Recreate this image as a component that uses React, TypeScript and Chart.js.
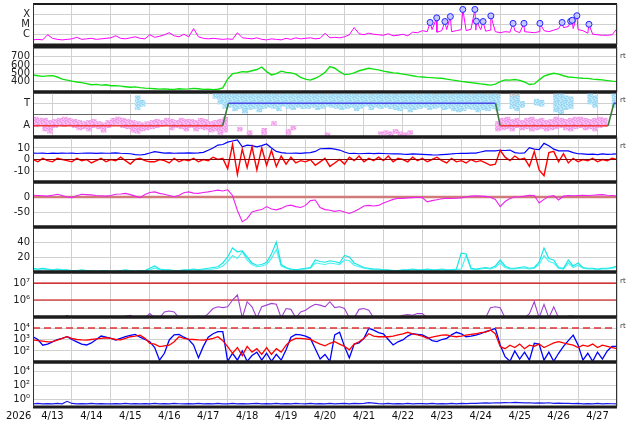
import React, { useEffect, useRef } from 'react';
import { Chart, registerables } from 'chart.js';

Chart.register(...registerables);

const N = null;

// ---------------- labels / axes ----------------
const dayLabels = ['4/13', '4/14', '4/15', '4/16', '4/17', '4/18', '4/19', '4/20', '4/21', '4/22', '4/23', '4/24', '4/25', '4/26', '4/27'];
const yearLabel = '2026';
const rtLabel = 'rt';
const STEP = 0.125; // days between samples (3 h)
const xrayClassExp = [-4, -5, -6];
const xrayClassNames = ['X', 'M', 'C'];
const speedTicks = [700, 600, 500, 400];
const sectorTicks = [1, 0, -1];
const sectorTickNames = ['T', '', 'A'];
const imfTicks = [10, 0, -10];
const dstTicks = [0, -50];
const densTicks = [40, 20];
const protonTickExp = [7, 6];
const elecTickExp = [4, 3, 2];
const lowTickExp = [4, 2, 0];
const protonLevelsExp = [7, 6];
const elecLevelExp = 4;

// ---------------- data (3-hourly, days since 4/13 00:00) ----------------
// X-ray flux, log10 W/m2
const xrayLog = [
  -6.5, -6.45, -6.5, -6.0, -6.35, -6.45, -6.5, -6.45,
  -6.4, -6.25, -6.45, -6.4, -6.35, -6.45, -6.4, -6.35,
  -6.3, -6.1, -6.35, -6.4, -6.3, -6.2, -6.35, -6.4,
  -6.0, -6.25, -6.15, -6.0, -5.8, -6.1, -6.2, -5.95,
  -6.2, -5.4, -6.2, -6.35, -6.4, -6.35, -6.4, -6.45,
  -6.4, -6.45, -5.8, -6.3, -6.35, -6.4, -6.3, -6.45,
  -6.5, -6.4, -6.45, -6.5, -6.35, -6.45, -6.3, -6.4,
  -6.35, -6.3, -6.4, -6.35, -5.85, -6.3, -6.25, -6.3,
  -6.2, -6.0, -5.3, -5.9, -6.0, -5.85, -5.95, -6.0,
  -6.05, -5.9, -6.1, -6.05, -5.95, -6.1, -5.75, -5.8,
  -5.6, -5.7, -5.5, -5.75, -5.6, -5.5, -5.7, -5.6,
  -5.5, -5.6, -5.45, -5.55, -5.5, -5.65, -5.55, -5.7,
  -5.8, -5.7, -5.75, -5.6, -5.8, -5.7, -5.75, -5.8,
  -5.7, -5.6, -5.7, -5.55, -5.4, -5.3, -5.2, -5.4,
  -5.5, -5.6, -5.85, -5.95, -6.0, -6.05, -6.05, -6.0,
  -5.4,
];
const flareTimes = [10.2, 10.37, 10.58, 10.72, 11.04, 11.35, 11.39, 11.56, 11.76, 12.33, 12.61, 13.02, 13.59, 13.81, 13.85, 13.97, 14.28];
const flareLog = [-4.8, -4.35, -4.71, -4.23, -3.53, -3.53, -4.68, -4.71, -4.16, -4.89, -4.89, -4.89, -4.8, -4.68, -4.59, -4.14, -4.98];

// solar wind speed km/s
const windSpeed = [
  480, 470, 462, 468, 472, 455, 430, 418,
  405, 395, 388, 375, 362, 366, 358, 362,
  350, 352, 345, 338, 332, 336, 328, 322,
  318, 314, 310, 312, 308, 306, 314, 310,
  312, 318, 314, 306, 310, 304, 308, 325,
  430, 495, 505, 520, 515, 530, 545, 575,
  520, 480, 495, 525, 510, 505, 490, 450,
  430, 418, 440, 470, 510, 580, 560, 520,
  485, 490, 505, 530, 545, 560, 550, 540,
  525, 515, 505, 500, 490, 480, 470, 460,
  455, 450, 448, 442, 440, 430, 420, 412,
  402, 395, 388, 380, 372, 365, 358, 370,
  400, 420, 418, 425, 415, 395, 365, 372,
  420, 465, 485, 500, 490, 470, 455, 450,
  445, 440, 438, 430, 425, 420, 412, 405,
  400,
];

// IMF sector (T = +1, A = -1)
const sectorTimes = [0, 4.87, 5.02, 11.88, 12.0, 14.77, 14.92, 15];
const sectorValues = [-1, -1, 1, 1, -1, -1, 1, 1];

// point clouds per 3-h bin (low / high of the cloud)
const pinkHi = [
  -0.2, -0.3, -0.3, -0.5, -0.4, -0.3, -0.2, -0.3,
  -0.4, -0.5, -0.6, -0.5, -0.4, -0.6, -0.7, -0.5,
  -0.3, -0.2, -0.3, -0.4, -0.5, -0.6, -0.7, -0.6,
  -0.5, -0.4, -0.5, -0.3, -0.4, -0.5, -0.3, -0.4,
  -0.4, -0.5, -0.3, -0.4, -0.6, -0.5, -0.4, -0.2,
  N, N, -1.1, N, -1.4, N, N, -1.2,
  N, -0.6, N, N, -1.3, -1.0, N, N,
  N, N, N, N, -1.6, N, N, N,
  N, N, N, N, N, N, N, -1.5,
  -1.4, -1.5, -1.3, -1.5, -1.6, -1.4, N, N,
  N, N, N, N, N, N, N, N,
  N, N, N, N, N, N, N, -0.6,
  -0.3, -0.2, -0.4, -0.3, -0.5, -0.3, -0.2, -0.4,
  -0.3, -0.5, -0.4, -0.2, -0.3, -0.4, -0.3, -0.2,
  -0.2, -0.3, -0.4, -0.3, -0.2, -0.3, N, N,
];
const pinkLo = [
  -1.1, -1.0, -1.5, -1.7, -1.2, -1.0, -1.1, -1.0,
  -1.2, -1.4, -1.3, -1.5, -1.2, -1.3, -1.6, -1.2,
  -1.0, -0.9, -1.2, -1.3, -1.6, -1.7, -1.5, -1.4,
  -1.3, -1.2, -1.1, -1.0, -1.4, -1.2, -1.3, -1.5,
  -1.2, -1.5, -1.3, -1.4, -1.6, -1.5, -1.8, -1.6,
  N, N, -1.5, N, -1.9, N, N, -1.8,
  N, -1.0, N, N, -1.8, -1.4, N, N,
  N, N, N, N, -1.9, N, N, N,
  N, N, N, N, N, N, N, -1.8,
  -1.8, -1.9, -1.7, -1.9, -1.9, -1.8, N, N,
  N, N, N, N, N, N, N, N,
  N, N, N, N, N, N, N, -1.5,
  -1.4, -1.3, -1.5, -1.2, -1.4, -1.3, -1.5, -1.4,
  -1.3, -1.5, -1.4, -1.3, -1.2, -1.4, -1.5, -1.3,
  -1.2, -1.4, -1.3, -1.5, -1.2, -1.1, N, N,
];
const blueHi = [
  N, N, N, N, N, N, N, N,
  N, N, N, N, N, N, N, N,
  N, N, N, N, N, 1.7, 1.3, N,
  N, N, N, N, N, N, N, N,
  N, N, N, N, N, 1.9, 1.95, 1.95,
  1.9, 1.85, 1.9, 1.8, 1.9, 1.85, 1.9, 1.85,
  1.85, 1.9, 1.8, 1.9, 1.85, 1.9, 1.8, 1.85,
  1.9, 1.8, 1.85, 1.9, 1.8, 1.85, 1.9, 1.85,
  1.85, 1.9, 1.8, 1.85, 1.9, 1.8, 1.85, 1.9,
  1.9, 1.85, 1.8, 1.9, 1.85, 1.9, 1.8, 1.85,
  1.85, 1.9, 1.8, 1.85, 1.9, 1.85, 1.8, 1.9,
  1.9, 1.85, 1.8, 1.9, 1.85, 1.8, 1.9, 1.8,
  N, N, 1.6, 1.7, 1.2, N, N, 1.4,
  1.3, N, N, 1.8, 1.9, 1.7, 1.6, N,
  N, N, 1.9, 1.7, N, N, N, 1.9,
];
const blueLo = [
  N, N, N, N, N, N, N, N,
  N, N, N, N, N, N, N, N,
  N, N, N, N, N, 0.4, 0.7, N,
  N, N, N, N, N, N, N, N,
  N, N, N, N, N, 1.4, 0.9, 0.5,
  0.6, 0.3, 0.5, 0.1, 0.4, 0.5, 0.2, 0.5,
  0.6, 0.5, 0.3, 0.7, 0.5, 0.4, 0.6, 0.5,
  0.5, 0.6, 0.4, 0.5, 0.7, 0.6, 0.5, 0.4,
  0.5, 0.6, 0.3, 0.5, 0.7, 0.4, 0.6, 0.5,
  0.6, 0.5, 0.4, 0.3, 0.5, 0.2, 0.4, 0.5,
  0.6, 0.4, 0.5, 0.6, 0.4, 0.5, 0.3, 0.2,
  0.3, 0.5, 0.4, 0.2, 0.4, 0.3, 0.5, 0.3,
  N, N, 0.5, 0.3, 0.6, N, N, 0.8,
  0.7, N, N, 0.2, 0.0, 0.4, 0.5, N,
  N, N, 0.9, 0.6, N, N, N, 0.6,
];
const grayHi = [
  N, N, N, N, N, N, N, N,
  N, N, N, N, N, N, N, N,
  N, N, N, N, N, N, N, N,
  N, N, N, N, N, N, N, N,
  N, N, N, N, N, 2, 2, 2,
  2, 2, 2, 2, 2, 2, 2, 2,
  2, 2, 2, 2, 2, 2, 2, 2,
  2, 2, 2, 2, 2, 2, 2, 2,
  2, 2, 2, 2, 2, 2, 2, 2,
  2, 2, 2, 2, 2, 2, 2, 2,
  2, 2, 2, 2, 2, 2, 2, 2,
  2, 2, 2, 2, 2, 2, 2, 2,
  N, N, 1.95, 1.95, N, N, N, N,
  N, N, N, 2, 2, N, N, N,
  N, N, N, N, N, N, N, 2,
];
const grayLo = [
  N, N, N, N, N, N, N, N,
  N, N, N, N, N, N, N, N,
  N, N, N, N, N, N, N, N,
  N, N, N, N, N, N, N, N,
  N, N, N, N, N, 1.7, 1.6, 1.55,
  1.6, 1.5, 1.65, 1.55, 1.7, 1.6, 1.5, 1.65,
  1.55, 1.65, 1.5, 1.6, 1.7, 1.55, 1.6, 1.5,
  1.6, 1.55, 1.7, 1.5, 1.6, 1.65, 1.55, 1.6,
  1.65, 1.5, 1.6, 1.55, 1.7, 1.6, 1.5, 1.65,
  1.5, 1.6, 1.65, 1.55, 1.6, 1.7, 1.55, 1.6,
  1.6, 1.55, 1.5, 1.65, 1.6, 1.55, 1.7, 1.6,
  1.55, 1.6, 1.65, 1.5, 1.6, 1.55, 1.6, 1.65,
  N, N, 1.5, 1.6, N, N, N, N,
  N, N, N, 1.6, 1.7, N, N, N,
  N, N, N, N, N, N, N, 1.6,
];

// IMF Bt and Bz, nT
const imfBt = [
  5.5, 5.4, 5.6, 5.2, 5.5, 5.3, 5.6, 5.4,
  5.5, 5.2, 5.4, 5.6, 5.5, 5.3, 5.6, 5.4,
  5.5, 5.7, 5.4, 5.2, 5.0, 4.2, 3.9, 4.5,
  5.6, 6.8, 6.2, 5.5, 5.8, 5.4, 5.6, 5.5,
  5.7, 5.5, 5.8, 6.2, 8, 10, 12.5, 13,
  15, 16, 17, 11, 12.5, 12, 11, 12,
  13.5, 10, 7, 6, 5.5, 5.4, 5.5, 5.3,
  5.8, 6, 7, 9.3, 9.5, 9.7, 9, 8.2,
  6.5, 5.2, 5.4, 5, 5.2, 5.4, 5.1, 5.3,
  5.2, 5, 4.8, 5, 4.6, 4.5, 4.8, 4.6,
  4.4, 4.2, 4, 3.9, 4.2, 4.5, 4.8, 5.2,
  5.4, 5.3, 5.5, 5.6, 6.5, 7.4, 7.6, 7.4,
  8, 7.8, 8.2, 6, 5.4, 5.8, 10.3, 9,
  8.5, 14, 12, 9, 7.5, 7.4, 7.5, 6,
  5, 4.8, 4.5, 4.6, 4.3, 4.8, 4.5, 4.6,
  4.8,
];
const imfBz = [
  0, -2, 1, -1, -2, 1, 0, -1,
  -2, 1, -1, 0, -3, -1, 1, -2,
  0, -1, 2, -1, -4, 0, 1, -1,
  -2, -2, 0, -1, -3, 1, -2, 0,
  -1, 1, -2, 0, -1, 2, 0, 1,
  -8, 13, -13, 9, -7, 11, -9, 10,
  -5, 8, -6, 3, -4, 2, -3, -1,
  -2, 0, -5, -2, 1, -6, -3, 0,
  -4, 2, -1, 3, -2, 1, -1, 2,
  -1, 3, -2, 1, 0, -2, 2, -1,
  1, -2, 0, 2, -1, -3, 1, -2,
  -1, -3, 0, -2, -1, -3, -5, -4,
  8, 2, -1, 3, 0, 1, -6, 7,
  -9, -14, 6, 7, -2, 5, -3, 1,
  -2, 0, -1, 1, -2, 0, -1, 1,
  0,
];

// Dst index, nT
const dst = [
  6, 5, 4, 3, 6, 9, 5, 0,
  -2, 4, 9, 8, 7, 5, 4, 3,
  5, 9, 10, 12, 8, 3, -2, 8,
  15, 17, 12, 9, 5, 1, 6, 14,
  17, 13, 12, 15, 17, 20, 23, 20,
  24, 5, -45, -82, -72, -50, -45, -42,
  -32, -40, -43, -38, -30, -27, -32, -35,
  -28, -12, -10, -35, -42, -44, -48, -45,
  -50, -55, -48, -40, -30, -28, -30, -28,
  -20, -14, -8, -4, -5, -3, -2, -1,
  -2, -16, -12, -9, -6, -4, -5, -4,
  -3, 0, 3, 4, 3, 2, -1, -8,
  -32, -15, -5, 0, 1, 3, 6, 5,
  -20, -8, 2, 5, -10, 3, 5, 4,
  5, 6, 5, 6, 7, 8, 6, 5,
  3,
];

// plasma density, two sources
const densA = [
  5, 4, 5, 4, 3, 4, 3, 3,
  2, 2, 3, 2, 2, 1, 2, 2,
  1, 1, 2, 3, 2, 1, 2, 2,
  5, 8, 4, 3, 3, 2, 2, 3,
  3, 4, 3, 4, 5, 6, 7, 12,
  20, 32, 27, 28, 20, 12, 9, 10,
  13, 24, 40, 10, 6, 4, 3, 4,
  5, 6, 16, 14, 13, 15, 14, 12,
  22, 20, 12, 9, 6, 5, 4, 4,
  3, 3, 2, 2, 3, 3, 4, 3,
  3, 4, 3, 3, 4, 3, 3, 4,
  25, 24, 5, 4, 5, 6, 5, 8,
  16, 8, 5, 5, 6, 7, 5, 6,
  13, 32, 18, 16, 6, 5, 16, 8,
  12, 6, 5, 5, 4, 5, 5, 6,
  8,
];
const densB = [
  4, 3, 4, 3, 2, 3, 2, 2,
  1, 1, 2, 1, 1, 1, 1, 1,
  1, 1, 1, 2, 1, 1, 1, 1,
  3, 5, 3, 2, 2, 1, 1, 2,
  2, 3, 2, 3, 3, 4, 5, 8,
  14, 22, 18, 27, 16, 10, 7, 8,
  10, 18, 30, 8, 5, 3, 3, 3,
  4, 5, 12, 11, 10, 12, 11, 10,
  16, 15, 9, 7, 5, 4, 3, 3,
  2, 2, 2, 2, 2, 2, 3, 2,
  2, 3, 2, 2, 3, 2, 2, 3,
  4, 22, 4, 3, 4, 5, 4, 6,
  12, 6, 4, 4, 5, 5, 4, 5,
  10, 22, 14, 12, 5, 4, 12, 6,
  9, 5, 4, 4, 3, 4, 4, 5,
  6,
];

// proton-type flux, log10
const protonLog = [
  4.95, 5.05, 4.95, 4.95, 4.95, 4.95, 4.95, 5.1,
  4.95, 4.95, 4.95, 4.95, 4.95, 4.95, 4.95, 4.95,
  4.95, 4.95, 4.95, 5.05, 5.1, 4.95, 4.95, 4.95,
  5.2, 4.95, 4.95, 5.3, 5.35, 5.3, 4.95, 4.95,
  4.95, 5.0, 5.05, 4.95, 5.2, 5.5, 5.6, 5.55,
  5.6, 6.0, 6.3, 4.95, 5.9, 5.6, 4.95, 5.6,
  5.7, 5.8, 5.75, 4.95, 5.5, 5.45, 4.95, 5.3,
  5.4, 5.6, 5.75, 5.7, 5.6, 5.9, 5.55, 5.6,
  5.5, 4.95, 4.95, 5.45, 5.5, 5.4, 4.95, 4.95,
  4.95, 4.95, 4.95, 4.95, 5.1, 5.15, 5.1, 5.2,
  5.2, 4.95, 4.95, 4.95, 4.95, 4.95, 4.95, 4.95,
  4.95, 4.95, 4.95, 4.95, 4.95, 4.95, 5.55, 5.6,
  5.55, 4.95, 4.95, 4.95, 4.95, 4.95, 5.2, 5.9,
  4.95, 5.75, 4.95, 5.6, 4.95, 4.95, 5.05, 5.05,
  4.95, 4.95, 4.95, 4.95, 5.03, 4.95, 4.95, 4.95,
  4.95,
];

// electron flux, two spacecraft, log10
const elecBlueLog = [
  3.24, 3.0, 2.5, 2.6, 2.8, 3.0, 3.1, 3.24,
  3.0, 2.8, 2.6, 2.52, 2.7, 3.0, 3.3, 3.2,
  3.1, 2.96, 3.1, 3.24, 3.35, 3.45, 3.2, 3.0,
  2.81, 2.3, 1.2, 1.8, 2.96, 3.4, 3.45, 3.2,
  3.0, 2.52, 1.4, 2.4, 3.2, 3.5, 3.68, 3.68,
  1.1, 1.8, 1.2, 2.0, 1.1, 1.6, 1.9, 1.2,
  1.8, 1.1, 1.7, 1.2, 2.1, 3.2, 3.45, 3.4,
  3.3, 3.1, 2.2, 1.3, 1.7, 1.1, 3.4, 3.63,
  2.4, 1.4, 2.6, 2.7, 3.1, 3.97, 3.82, 3.6,
  3.5, 3.0, 2.52, 2.8, 2.96, 3.3, 3.5, 3.45,
  3.4, 3.2, 2.9, 2.81, 3.0, 3.1, 3.4, 3.63,
  3.5, 3.24, 3.3, 3.38, 3.5, 3.68, 3.8, 3.97,
  2.52, 1.5, 1.1, 2.0, 1.3, 1.9, 1.2, 2.67,
  2.6, 1.2, 1.9, 1.1, 1.8, 2.4, 2.9, 3.38,
  2.52, 1.2, 1.8, 1.1, 1.9, 1.3, 2.0, 2.4,
  2.4,
];
const elecRedLog = [
  2.96, 2.9, 2.85, 2.8, 2.81, 2.95, 3.1, 3.24,
  3.1, 3.0, 2.96, 2.95, 3.0, 3.05, 3.1, 3.15,
  3.1, 3.0, 2.96, 3.1, 3.24, 3.3, 3.38, 3.1,
  2.67, 2.6, 2.38, 2.45, 2.5, 2.8, 3.24, 3.1,
  3.03, 3.0, 2.96, 2.95, 3.0, 3.1, 3.24, 2.9,
  2.38, 1.8, 2.3, 1.6, 2.4, 1.9, 2.2, 1.7,
  2.3, 1.7, 2.2, 1.9, 2.5, 2.9, 3.1, 3.1,
  3.05, 3.0, 2.8, 2.6, 2.45, 2.67, 2.81, 2.6,
  2.4, 2.1, 2.6, 2.8, 3.1, 3.5, 3.3, 3.24,
  3.24, 3.24, 3.3, 3.4, 3.5, 3.63, 3.5, 3.4,
  3.3, 3.1, 3.2, 3.3, 3.38, 3.4, 3.3, 3.24,
  3.3, 3.38, 3.45, 3.5, 3.6, 3.65, 3.82, 3.5,
  2.38, 2.2, 2.5, 2.3, 2.6, 2.2, 2.5, 2.4,
  2.6, 2.3, 2.5, 2.7, 2.81, 2.7, 2.6, 2.5,
  2.3, 2.5, 2.4, 2.6, 2.3, 2.5, 2.4, 2.3,
  2.2,
];

// bottom panel flux, log10
const lowLog = [
  -0.55, -0.5, -0.55, -0.52, -0.56, -0.5, -0.55, -0.2,
  -0.5, -0.55, -0.52, -0.56, -0.5, -0.55, -0.53, -0.56,
  -0.55, -0.52, -0.56, -0.5, -0.55, -0.53, -0.56, -0.52,
  -0.56, -0.5, -0.55, -0.53, -0.56, -0.5, -0.54, -0.56,
  -0.52, -0.56, -0.5, -0.55, -0.52, -0.56, -0.5, -0.55,
  -0.56, -0.5, -0.55, -0.52, -0.56, -0.53, -0.5, -0.55,
  -0.52, -0.56, -0.5, -0.55, -0.53, -0.56, -0.5, -0.54,
  -0.56, -0.5, -0.55, -0.52, -0.56, -0.5, -0.55, -0.53,
  -0.5, -0.55, -0.5, -0.52, -0.5, -0.38, -0.45, -0.52,
  -0.56, -0.5, -0.55, -0.52, -0.56, -0.5, -0.55, -0.53,
  -0.52, -0.56, -0.5, -0.55, -0.52, -0.56, -0.5, -0.55,
  -0.5, -0.52, -0.48, -0.5, -0.45, -0.42, -0.45, -0.4,
  -0.42, -0.38, -0.4, -0.35, -0.38, -0.42, -0.4, -0.45,
  -0.42, -0.45, -0.4, -0.48, -0.45, -0.5, -0.48, -0.52,
  -0.5, -0.55, -0.52, -0.56, -0.5, -0.55, -0.52, -0.54,
  -0.55,
];

// ---------------- helpers ----------------
const FONT = '"DejaVu Sans", Verdana, sans-serif';
const GRID = '#d0d0d0';
const SUP: Record<string, string> = { '-': '⁻', '0': '⁰', '1': '¹', '2': '²', '3': '³', '4': '⁴', '5': '⁵', '6': '⁶', '7': '⁷', '8': '⁸', '9': '⁹' };
const powLabel = (v: number) => '10' + String(Math.round(Math.log10(v))).split('').map((c) => SUP[c]).join('');
const P10 = (e: number) => Math.pow(10, e);

Chart.defaults.font.family = FONT;
Chart.defaults.font.size = 10;
Chart.defaults.color = '#222';

const series = (vals: (number | null)[], exp = false) =>
  vals.map((v, i) => ({ x: i * STEP, y: v === null ? null : exp ? P10(v) : v }));
const band = (lo: (number | null)[], hi: (number | null)[]) => {
  const out: any[] = [];
  lo.forEach((l, i) => {
    const h = hi[i];
    if (l !== null && h !== null) out.push({ x: (i + 0.5) * STEP, y: [l, h] });
  });
  return out;
};
const hline = (v: number) => [{ x: 0, y: v }, { x: 15, y: v }];
const line = (data: any[], color: string, width = 1, extra: any = {}) => ({
  type: 'line', data, borderColor: color, backgroundColor: color, borderWidth: width, pointRadius: 0, tension: 0, fill: false, ...extra,
});
const bars = (data: any[], color: any) => ({
  type: 'bar', data, backgroundColor: color, borderWidth: 0, grouped: false, barPercentage: 1.15, categoryPercentage: 1,
});

// speckled fill so the clouds read as scattered dots
const SPECKS = [[0, 0], [3, 0], [5, 1], [1, 2], [4, 3], [6, 3], [2, 4], [0, 5], [5, 5], [3, 6], [1, 7], [6, 7]];
function speckle(base: string, dot: string) {
  const c = document.createElement('canvas');
  c.width = 8; c.height = 8;
  const g = c.getContext('2d') as CanvasRenderingContext2D;
  g.fillStyle = base;
  g.fillRect(0, 0, 8, 8);
  g.fillStyle = dot;
  SPECKS.forEach(([x, y]) => g.fillRect(x, y, 2, 1.5));
  return g.createPattern(c, 'repeat');
}

const PANEL_TOPS = [2, 47, 92, 137, 182, 227, 272, 317, 362];
const RT_TOPS = [57, 101, 147, 282, 327];

function buildSpec(i: number): any {
  switch (i) {
    case 0: {
      const pts = xrayLog.map((v, k) => ({ x: k * STEP, y: P10(v) }));
      flareTimes.forEach((t, k) => pts.push({ x: t, y: P10(flareLog[k]) }));
      pts.sort((a, b) => a.x - b.x);
      const flares = flareTimes.map((t, k) => ({ x: t, y: P10(flareLog[k]) }));
      return {
        log: true, min: P10(-7), max: P10(-3), topW: 2,
        ticks: xrayClassExp.map(P10),
        label: (v: number) => xrayClassNames[xrayClassExp.indexOf(Math.round(Math.log10(v)))] || '',
        datasets: [
          line(flares, '#2a2aff', 1, { showLine: false, pointRadius: 3, pointBorderWidth: 1, pointBackgroundColor: '#c4c8ff', pointBorderColor: '#2424ff' }),
          line(pts, '#ff00ff', 1),
        ],
      };
    }
    case 1:
      return {
        min: 275, max: 815, ticks: speedTicks, label: (v: number) => String(v),
        datasets: [line(series(windSpeed), '#11e011', 1.4)],
      };
    case 2:
      return {
        min: -2, max: 2, ticks: sectorTicks,
        label: (v: number) => sectorTickNames[sectorTicks.indexOf(v)] || '',
        gridColor: (c: any) => (c.tick && c.tick.value === 0 ? '#666' : GRID),
        datasets: [
          line(sectorTimes.map((t, k) => ({ x: t, y: sectorValues[k] })), '#f03a3a', 1.6, {
            segment: {
              borderColor: (c: any) => {
                const a = c.p0.parsed.y, b = c.p1.parsed.y;
                return a === b ? (a > 0 ? '#4a4ae6' : '#f03a3a') : '#3d7a3d';
              },
            },
          }),
          bars(band(blueLo, blueHi), speckle('#c2eafb', '#96d6f4')),
          bars(band(pinkLo, pinkHi), speckle('#f8c2f3', '#f097e8')),
          bars(band(grayLo, grayHi), speckle('#e2e2e2', '#c0c0c0')),
        ],
      };
    case 3:
      return {
        min: -19.5, max: 19.5, ticks: imfTicks, label: (v: number) => String(v),
        datasets: [
          line(hline(0), '#8a0000', 1.2),
          line(series(imfBz), '#ff0000', 1.4),
          line(series(imfBt), '#0000ff', 1.2),
        ],
      };
    case 4:
      return {
        min: -100, max: 50, ticks: dstTicks, label: (v: number) => String(v),
        datasets: [
          line(series(dst), '#ee22ee', 1.1),
          line(hline(0), '#d07a7a', 2.6),
        ],
      };
    case 5:
      return {
        min: 0, max: 60, ticks: densTicks, label: (v: number) => String(v),
        datasets: [
          line(series(densA), '#19e6e6', 1.2),
          line(series(densB), '#4df2f2', 1.2),
        ],
      };
    case 6:
      return {
        log: true, min: P10(5), max: P10(7.65), ticks: protonTickExp.map(P10), label: powLabel,
        datasets: [
          line(series(protonLog, true), '#a040d0', 1.1),
          ...protonLevelsExp.map((e) => line(hline(P10(e)), '#cc0000', 1.2)),
        ],
      };
    case 7:
      return {
        log: true, min: P10(1.04), max: P10(4.96), ticks: elecTickExp.map(P10), label: powLabel,
        datasets: [
          line(hline(P10(elecLevelExp)), '#dd3333', 1.5, { borderDash: [7, 4] }),
          line(series(elecRedLog, true), '#ff0000', 1.3),
          line(series(elecBlueLog, true), '#0000ff', 1.3),
        ],
      };
    default:
      return {
        bottom: true, log: true, min: P10(-1), max: P10(5.34), ticks: lowTickExp.map(P10), label: powLabel,
        datasets: [line(series(lowLog, true), '#1a1aee', 1.2)],
      };
  }
}

const framePlugin = {
  id: 'panelFrame',
  afterDraw(chart: any, _args: any, opts: any) {
    const { ctx, chartArea: a } = chart;
    ctx.save();
    ctx.fillStyle = '#1c1c1c';
    const tw = opts && opts.topW ? opts.topW : 3;
    ctx.fillRect(a.left, a.top - tw / 2, a.right - a.left, tw);
    ctx.fillRect(a.left, a.bottom - 1.5, a.right - a.left, 3);
    ctx.fillStyle = '#333';
    ctx.fillRect(a.left, a.top, 1, a.bottom - a.top);
    ctx.fillRect(a.right - 1, a.top, 1, a.bottom - a.top);
    ctx.restore();
  },
};

function makeConfig(i: number) {
  const s = buildSpec(i);
  const bottom = !!s.bottom;
  const xTicks: number[] = [];
  for (let k = 0; k <= 30; k++) if (bottom || k % 2 === 0) xTicks.push(k / 2);
  return {
    type: 'line',
    data: { datasets: s.datasets },
    options: {
      animation: false,
      responsive: false,
      events: [],
      layout: { padding: { left: 0, right: 17, top: 3, bottom: 3 } },
      plugins: { legend: { display: false }, tooltip: { enabled: false }, panelFrame: { topW: s.topW || 3 } },
      scales: {
        x: {
          type: 'linear', min: 0, max: 15, offset: false, bounds: 'data',
          afterBuildTicks: (sc: any) => { sc.ticks = xTicks.map((v) => ({ value: v })); },
          afterFit: (sc: any) => { sc.height = bottom ? 14 : 0; sc.paddingLeft = 0; sc.paddingRight = 0; },
          grid: { color: (c: any) => (c.tick && Number.isInteger(c.tick.value) ? GRID : 'rgba(0,0,0,0)'), drawTicks: false, lineWidth: 1 },
          border: { display: false },
          ticks: {
            display: bottom, autoSkip: false, maxRotation: 0, minRotation: 0, padding: 3, color: '#111',
            font: { family: FONT, size: 10 },
            callback: (v: any) => (Number.isInteger(Number(v)) ? '' : dayLabels[Math.floor(Number(v))] || ''),
          },
        },
        y: {
          type: s.log ? 'logarithmic' : 'linear', min: s.min, max: s.max, bounds: 'data',
          afterBuildTicks: (sc: any) => { sc.ticks = s.ticks.map((v: number) => ({ value: v })); },
          afterFit: (sc: any) => { sc.width = 33; sc.paddingTop = 0; sc.paddingBottom = 0; },
          grid: { color: s.gridColor || GRID, drawTicks: false, lineWidth: 1 },
          border: { display: false },
          ticks: { padding: 3, color: '#222', autoSkip: false, font: { family: FONT, size: 10 }, callback: (v: any) => s.label(Number(v)) },
        },
      },
    },
    plugins: [framePlugin],
  };
}

function Panel({ index }: { index: number }) {
  const ref = useRef<HTMLCanvasElement>(null);
  const bottom = index === PANEL_TOPS.length - 1;
  const h = 51 + (bottom ? 14 : 0);
  useEffect(() => {
    const chart = new Chart(ref.current as HTMLCanvasElement, makeConfig(index) as any);
    return () => chart.destroy();
  }, [index]);
  return (
    <canvas
      ref={ref}
      width={634}
      height={h}
      style={{ position: 'absolute', left: 0, top: PANEL_TOPS[index] - 3, width: 634, height: h }}
    />
  );
}

export default function App() {
  return (
    <div style={{ position: 'absolute', left: 0, top: 0, width: 634, height: 424, background: '#fff', overflow: 'hidden', fontFamily: FONT }}>
      {PANEL_TOPS.map((_, i) => (
        <Panel key={i} index={i} />
      ))}
      <div style={{ position: 'absolute', left: 6, top: 410, fontSize: 10, lineHeight: '12px', color: '#111' }}>{yearLabel}</div>
      {RT_TOPS.map((t, i) => (
        <div key={i} style={{ position: 'absolute', left: 620, top: t - 5, fontSize: 7, lineHeight: '9px', color: '#333' }}>
          {rtLabel}
        </div>
      ))}
    </div>
  );
}
